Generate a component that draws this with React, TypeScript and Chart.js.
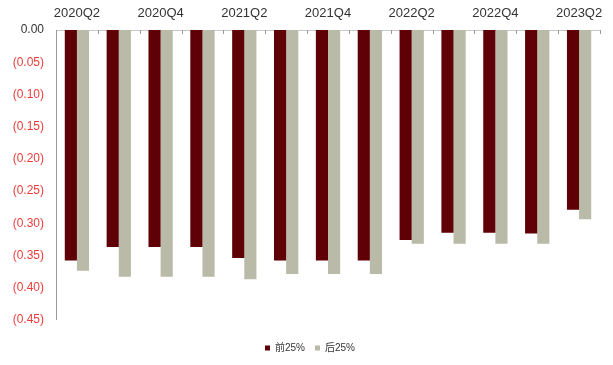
import React, { useEffect, useRef } from "react";
import { Chart, registerables } from "chart.js";

Chart.register(...registerables);

const categories = [
  "2020Q2", "2020Q3", "2020Q4", "2021Q1", "2021Q2", "2021Q3", "2021Q4",
  "2022Q1", "2022Q2", "2022Q3", "2022Q4", "2023Q1", "2023Q2",
];
const top25 = [-0.358, -0.337, -0.337, -0.337, -0.354, -0.358, -0.358, -0.358, -0.326, -0.315, -0.315, -0.316, -0.279];
const bottom25 = [-0.374, -0.383, -0.383, -0.383, -0.387, -0.379, -0.379, -0.379, -0.332, -0.332, -0.332, -0.332, -0.294];
const seriesNames = ["前25%", "后25%"];

const FONT = "'Liberation Sans', Arial, 'Noto Sans CJK SC', sans-serif";

const innerTicks = {
  id: "innerTicks",
  afterLayout(chart: any) {
    const lg = chart.legend;
    if (lg) {
      lg.left += 10;
      lg.right += 10;
    }
  },
  afterDraw(chart: any) {
    const { ctx, chartArea } = chart;
    const n = categories.length;
    const w = (chartArea.right - chartArea.left) / n;
    ctx.save();
    ctx.strokeStyle = "#999999";
    ctx.lineWidth = 1;
    ctx.beginPath();
    for (let k = 1; k <= n; k++) {
      const x = Math.round(chartArea.left + k * w) + 0.5;
      ctx.moveTo(x, chartArea.top);
      ctx.lineTo(x, chartArea.top + 4);
    }
    ctx.stroke();
    ctx.restore();
  },
};

export default function App() {
  const ref = useRef<HTMLCanvasElement | null>(null);
  useEffect(() => {
    if (!ref.current) return;
    const chart = new Chart(ref.current, {
      type: "bar",
      data: {
        labels: categories,
        datasets: [
          { label: seriesNames[0], data: top25, backgroundColor: "#5E0006", borderWidth: 0 },
          { label: seriesNames[1], data: bottom25, backgroundColor: "#B9BAA8", borderWidth: 0 },
        ],
      },
      options: {
        animation: false,
        responsive: true,
        maintainAspectRatio: false,
        layout: { padding: { left: 0, right: 13, top: 0, bottom: 2 } },
        datasets: { bar: { categoryPercentage: 0.58, barPercentage: 1 } },
        plugins: {
          legend: {
            position: "bottom",
            title: { display: true, text: "", padding: { top: 12, bottom: 0 }, font: { size: 1 } },
            labels: {
              boxWidth: 5,
              boxHeight: 5,
              padding: 10,
              color: "#333",
              font: { family: FONT, size: 10 },
            },
          },
          tooltip: { enabled: false },
        },
        scales: {
          x: {
            position: "top",
            grid: { display: false, drawTicks: false },
            border: { display: true, color: "#C8C8C8" },
            ticks: {
              autoSkip: false,
              maxRotation: 0,
              padding: 9,
              color: "#333",
              font: { family: FONT, size: 13 },
              callback: (_v: any, i: number) => (i % 2 === 0 ? categories[i] : ""),
            },
            afterFit: (s: any) => { s.height = 30; },
          },
          y: {
            min: -0.45,
            max: 0,
            grid: { display: false, drawTicks: false },
            border: { display: true, color: "#999999" },
            ticks: {
              stepSize: 0.05,
              padding: 12,
              font: { family: FONT, size: 12 },
              color: (c: any) => (c.tick && c.tick.value < -1e-9 ? "#F03C3C" : "#333"),
              callback: (v: any) => {
                const n = Number(v);
                const s = Math.abs(n).toFixed(2);
                return n < -1e-9 ? `(${s})` : s;
              },
            },
            afterFit: (s: any) => { s.width = 56; },
          },
        },
      },
      plugins: [innerTicks],
    });
    return () => chart.destroy();
  }, []);
  return (
    <div style={{ position: "fixed", left: 0, top: 0, width: 613, height: 365, background: "#fff" }}>
      <canvas ref={ref} />
    </div>
  );
}
